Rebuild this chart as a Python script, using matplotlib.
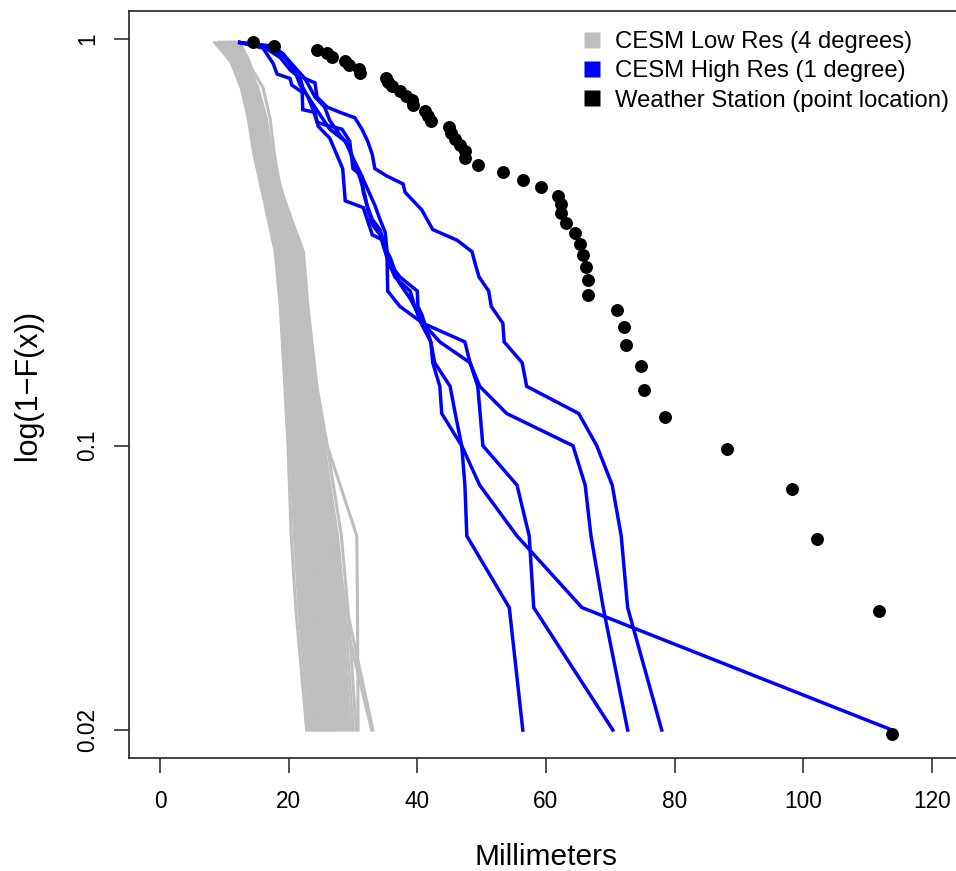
import numpy as np
import matplotlib
matplotlib.use("Agg")
import matplotlib.pyplot as plt
from matplotlib.lines import Line2D
from matplotlib.ticker import NullLocator, FixedLocator, FixedFormatter

plt.rcParams['font.family'] = ['Liberation Sans', 'DejaVu Sans']

# ---------------- data ----------------
# Weather station: 50 sorted annual maxima (mm), plotted at rank/(n+1)
station_mm = [113.8, 111.7, 102.1, 98.3, 88.1, 78.5, 75.2, 74.7, 72.4, 72.1,
              71.0, 66.5, 66.5, 66.3, 65.8, 65.3, 64.5, 63.1, 62.4, 62.4,
              61.9, 59.3, 56.5, 53.3, 49.5, 47.4, 47.4, 46.6, 45.9, 45.3,
              45.0, 42.1, 41.7, 41.2, 39.4, 39.1, 38.3, 37.3, 36.1, 35.4,
              35.2, 31.1, 30.9, 29.4, 28.8, 26.8, 25.9, 24.4, 17.7, 14.4]
station_p = [k / 51 for k in range(1, 51)]

# CESM High Res (1 degree): 5 ensemble members (mm, survival prob)
hi_a_mm = [12.4, 17.1, 19.4, 20.5, 22.5, 23.3, 24.1, 25.6, 26.4, 28.0, 29.2, 30.0, 31.1,
           32.2, 33.4, 34.2, 35.0, 35.4, 36.5, 38.9, 39.6, 40.6, 42.1, 42.4, 43.5, 43.8,
           46.9, 47.4, 47.7, 54.3, 56.4]
hi_a_p = [0.98, 0.95, 0.90, 0.86, 0.80, 0.76, 0.72, 0.68, 0.63, 0.58, 0.55, 0.51, 0.47,
          0.43, 0.39, 0.36, 0.335, 0.29, 0.26, 0.24, 0.22, 0.20, 0.18, 0.16, 0.14, 0.12,
          0.10, 0.08, 0.06, 0.04, 0.02]

hi_b_mm = [12.4, 15.9, 18.7, 20.2, 21.8, 22.2, 23.0, 23.8, 24.4, 25.6, 28.3, 29.5, 29.8,
           30.0, 31.4, 31.6, 32.2, 33.0, 34.2, 34.7, 35.3, 35.8, 36.5, 37.3, 40.0, 40.1,
           40.7, 42.1, 42.7, 45.1, 45.9, 46.9, 49.7, 55.5, 65.6, 113.8]
hi_b_p = [0.98, 0.96, 0.90, 0.84, 0.80, 0.76, 0.72, 0.67, 0.625, 0.615, 0.60, 0.56, 0.51,
          0.48, 0.46, 0.42, 0.39, 0.36, 0.34, 0.32, 0.30, 0.29, 0.27, 0.26, 0.24, 0.22,
          0.21, 0.18, 0.16, 0.14, 0.12, 0.10, 0.08, 0.06, 0.04, 0.02]

hi_c_mm = [12.4, 16.0, 17.6, 18.2, 20.2, 20.5, 22.1, 22.2, 24.1, 24.6, 26.4, 28.4, 28.8,
           31.6, 33.0, 34.7, 35.3, 35.4, 37.3, 40.9, 47.4, 48.2, 49.4, 50.2, 55.5, 57.4,
           58.1, 70.4]
hi_c_p = [0.98, 0.95, 0.87, 0.82, 0.80, 0.77, 0.74, 0.67, 0.66, 0.61, 0.57, 0.48, 0.40,
          0.385, 0.33, 0.32, 0.29, 0.24, 0.22, 0.20, 0.18, 0.16, 0.14, 0.10, 0.08, 0.06,
          0.04, 0.02]

hi_d_mm = [12.4, 16.8, 19.1, 21.0, 21.8, 23.3, 24.9, 26.4, 28.8, 29.5, 30.3, 31.1, 31.9,
           32.3, 33.0, 34.2, 35.0, 35.8, 37.3, 38.9, 40.9, 43.5, 48.2, 49.7, 53.9, 64.2,
           66.1, 67.0, 68.9, 72.7]
hi_d_p = [0.98, 0.96, 0.92, 0.83, 0.77, 0.71, 0.65, 0.60, 0.56, 0.53, 0.49, 0.455, 0.41,
          0.38, 0.35, 0.33, 0.30, 0.275, 0.25, 0.23, 0.20, 0.18, 0.16, 0.14, 0.12, 0.10,
          0.08, 0.06, 0.04, 0.02]

hi_e_mm = [12.4, 17.6, 19.1, 21.3, 22.5, 24.1, 24.4, 26.0, 28.0, 30.3, 31.4, 32.3, 33.0,
           33.4, 35.3, 37.8, 38.1, 40.7, 42.4, 46.2, 48.5, 49.0, 49.6, 51.1, 51.5, 53.3,
           53.5, 56.3, 57.0, 65.1, 67.9, 70.3, 71.7, 72.7, 78.0]
hi_e_p = [0.98, 0.96, 0.92, 0.84, 0.80, 0.78, 0.72, 0.68, 0.66, 0.64, 0.60, 0.56, 0.52,
          0.48, 0.46, 0.44, 0.42, 0.38, 0.34, 0.32, 0.30, 0.28, 0.26, 0.24, 0.22, 0.20,
          0.18, 0.16, 0.14, 0.12, 0.10, 0.08, 0.06, 0.04, 0.02]

hi_res_mm = [hi_a_mm, hi_b_mm, hi_c_mm, hi_d_mm, hi_e_mm]
hi_res_p = [hi_a_p, hi_b_p, hi_c_p, hi_d_p, hi_e_p]

# CESM Low Res (4 degrees): members read at these survival levels
lo_res_p = [0.98, 0.88, 0.76, 0.64, 0.52, 0.40, 0.30, 0.22, 0.14, 0.10, 0.06, 0.04, 0.02]
lo_res_mm = [
    [8.5, 11.0, 12.6, 13.7, 14.6, 16.2, 17.9, 18.7, 19.4, 19.9, 20.4, 21.1, 22.8],
    [9.0, 11.3, 12.8, 13.9, 14.9, 16.5, 18.2, 19.0, 19.8, 20.3, 20.9, 21.6, 23.2],
    [9.4, 11.5, 13.0, 14.1, 15.0, 16.8, 18.5, 19.3, 20.1, 20.6, 21.3, 22.0, 23.6],
    [9.8, 11.7, 13.1, 14.2, 15.2, 16.9, 18.7, 19.6, 20.4, 21.0, 21.7, 22.5, 24.0],
    [10.0, 11.9, 13.3, 14.4, 15.4, 17.1, 18.9, 19.8, 20.7, 21.3, 22.1, 22.9, 24.3],
    [10.3, 12.0, 13.4, 14.5, 15.5, 17.3, 19.1, 20.0, 20.9, 21.6, 22.5, 23.3, 24.7],
    [10.5, 12.1, 13.5, 14.6, 15.6, 17.4, 19.3, 20.2, 21.2, 21.9, 22.9, 23.7, 25.0],
    [10.7, 12.3, 13.6, 14.8, 15.8, 17.6, 19.5, 20.5, 21.4, 22.1, 23.2, 24.0, 25.3],
    [10.9, 12.4, 13.7, 14.9, 15.9, 17.7, 19.7, 20.7, 21.7, 22.4, 23.5, 24.4, 25.6],
    [11.0, 12.5, 13.8, 15.0, 16.0, 17.9, 19.9, 20.9, 21.9, 22.7, 23.9, 24.8, 26.0],
    [11.2, 12.6, 13.9, 15.1, 16.1, 18.0, 20.1, 21.1, 22.1, 22.9, 24.2, 25.1, 26.3],
    [11.3, 12.7, 14.0, 15.2, 16.3, 18.2, 20.3, 21.3, 22.3, 23.2, 24.5, 25.5, 26.6],
    [11.5, 12.8, 14.1, 15.3, 16.4, 18.3, 20.5, 21.5, 22.5, 23.4, 24.8, 25.8, 27.0],
    [11.6, 12.9, 14.2, 15.4, 16.5, 18.5, 20.7, 21.7, 22.7, 23.6, 25.1, 26.1, 27.3],
    [11.8, 13.0, 14.3, 15.5, 16.6, 18.6, 20.9, 21.9, 22.9, 23.8, 25.4, 26.5, 27.6],
    [11.9, 13.1, 14.4, 15.6, 16.7, 18.8, 21.1, 22.1, 23.1, 24.0, 25.7, 26.8, 28.0],
    [12.0, 13.2, 14.5, 15.7, 16.8, 18.9, 21.3, 22.3, 23.3, 24.3, 26.0, 27.2, 28.4],
    [12.1, 13.3, 14.6, 15.8, 16.9, 19.0, 21.5, 22.5, 23.5, 24.5, 26.3, 27.5, 28.7],
    [12.2, 13.4, 14.7, 15.9, 17.0, 19.1, 21.7, 22.6, 23.7, 24.8, 26.7, 27.9, 29.1],
    [12.3, 13.5, 14.8, 16.0, 17.1, 19.2, 21.9, 22.7, 23.9, 25.1, 27.1, 28.3, 29.5],
    [12.4, 13.7, 14.9, 16.1, 17.2, 19.3, 22.1, 22.8, 24.1, 25.5, 27.6, 28.7, 30.0],
    [12.4, 13.9, 15.0, 16.2, 17.3, 19.4, 22.3, 23.0, 24.4, 26.0, 28.2, 29.2, 30.5],
    [12.0, 13.6, 16.0, 17.1, 17.8, 19.0, 21.0, 22.0, 24.0, 26.0, 30.6, 30.7, 30.8],
    [11.5, 13.2, 15.2, 16.5, 17.4, 18.6, 20.6, 22.4, 23.8, 25.4, 27.5, 28.3, 32.9],
    [11.0, 12.8, 14.3, 15.4, 16.2, 18.0, 20.0, 21.2, 22.8, 24.2, 26.8, 29.0, 33.1],
    [10.2, 11.8, 13.2, 14.7, 15.7, 17.5, 19.4, 20.3, 21.5, 22.4, 24.0, 25.0, 26.8],
    [9.6, 11.6, 13.5, 14.5, 15.3, 17.0, 18.6, 19.5, 20.6, 21.2, 22.3, 23.2, 25.5],
    [10.8, 12.2, 13.4, 14.4, 15.5, 17.6, 19.2, 20.3, 21.0, 21.8, 22.8, 23.6, 24.8],
    [11.4, 12.6, 13.9, 15.0, 16.1, 18.4, 20.4, 21.6, 22.2, 23.0, 24.5, 26.0, 29.8],
    [9.2, 11.4, 13.0, 14.3, 15.3, 16.9, 18.4, 19.2, 20.3, 20.8, 21.5, 22.2, 23.8],
]

x_ticks = [0, 20, 40, 60, 80, 100, 120]
y_ticks = [1, 0.1, 0.02]
y_tick_labels = ["1", "0.1", "0.02"]
legend_labels = ["CESM Low Res (4 degrees)", "CESM High Res (1 degree)",
                 "Weather Station (point location)"]
colors = ["#BEBEBE", "#0000FF", "#000000"]

# ---------------- figure ----------------
W, H = 956, 871
fig = plt.figure(figsize=(W / 100, H / 100), dpi=100)
left, right, top, bottom = 129.1, 962.8, 11.3, 757.7
ax = fig.add_axes([left / W, 1 - bottom / H, (right - left) / W, (bottom - top) / H])

for xs in lo_res_mm:
    ax.plot(xs, lo_res_p, color=colors[0], lw=2.2, solid_joinstyle='miter', zorder=1)
for xs, ps in zip(hi_res_mm, hi_res_p):
    ax.plot(xs, ps, color=colors[1], lw=2.5, solid_joinstyle='miter', zorder=2)
ax.plot(station_mm, station_p, 'o', color=colors[2], ms=9.3, mec='none', zorder=3)

ax.set_yscale('log')
ax.set_xlim(-4.8, 124.8)
ax.set_ylim(10 ** (np.log10(0.02) - 0.068), 10 ** 0.068)
ax.xaxis.set_major_locator(FixedLocator(x_ticks))
ax.yaxis.set_major_locator(FixedLocator(y_ticks))
ax.yaxis.set_major_formatter(FixedFormatter(y_tick_labels))
ax.yaxis.set_minor_locator(NullLocator())
ax.xaxis.set_minor_locator(NullLocator())

for s in ax.spines.values():
    s.set_linewidth(1.2)
    s.set_color('#222222')
ax.tick_params(axis='both', direction='out', length=10.5, width=1.1, labelsize=16.3, color='#222222')
ax.tick_params(axis='x', pad=13)
ax.tick_params(axis='y', pad=11)
for lab in ax.get_yticklabels():
    lab.set_rotation(90)
    lab.set_va('center')

ax.set_xlabel("Millimeters", fontsize=21.5, labelpad=21)
ax.set_ylabel("log(1\u2212F(x))", fontsize=22, labelpad=24)

handles = [Line2D([], [], ls='none', marker='s', ms=12.0, mfc=c, mec='none') for c in colors]
ax.legend(handles, legend_labels, loc='upper left', bbox_to_anchor=(580.5 / W, 1 - 31 / H),
          bbox_transform=fig.transFigure, frameon=False, fontsize=17.2,
          handlelength=1.0, handletextpad=0.44, labelspacing=0.31, borderpad=0, borderaxespad=0)

fig.savefig("out.png", dpi=100)
